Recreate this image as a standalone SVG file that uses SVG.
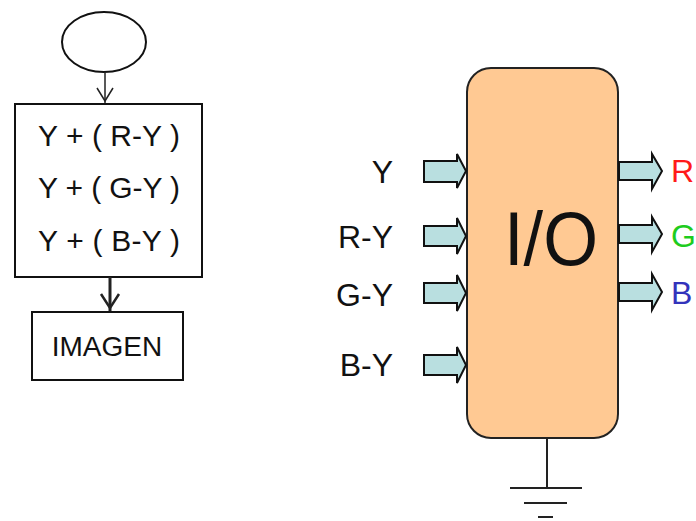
<svg xmlns="http://www.w3.org/2000/svg" width="696" height="521" viewBox="0 0 696 521">
<style>
.t{font-family:"Liberation Sans",Arial,sans-serif;fill:#111}
.box{fill:#fff;stroke:#111;stroke-width:2}
.arr{fill:#b9dfe0;stroke:#111;stroke-width:2;stroke-linejoin:miter}
.ln{stroke:#222;fill:none}
</style>
<rect width="696" height="521" fill="#fff"/>
<g id="start"><ellipse cx="104" cy="42" rx="42" ry="30" class="box"/></g>
<g id="formulas">
<rect x="15" y="104" width="187" height="173" class="box"/>
<text class="t" x="38" y="146" font-size="30" textLength="142">Y + ( R-Y )</text>
<text class="t" x="38" y="198" font-size="30" textLength="142">Y + ( G-Y )</text>
<text class="t" x="38" y="251" font-size="30" textLength="142">Y + ( B-Y )</text>
</g>
<g id="imagen">
<rect x="32" y="312" width="151" height="68" class="box"/>
<text class="t" x="107" y="356" font-size="28" text-anchor="middle">IMAGEN</text>
</g>
<g id="io">
<rect x="467" y="68" width="151" height="370" rx="24" fill="#ffc993" stroke="#222" stroke-width="2"/>
<text class="t" x="551" y="265" font-size="76" text-anchor="middle" textLength="94" lengthAdjust="spacingAndGlyphs">I/O</text>
</g>
<g id="inputs">
<text class="t" x="393" y="183" font-size="32" text-anchor="end">Y</text>
<text class="t" x="393" y="248" font-size="32" text-anchor="end">R-Y</text>
<text class="t" x="393" y="306" font-size="32" text-anchor="end">G-Y</text>
<text class="t" x="393" y="376" font-size="32" text-anchor="end">B-Y</text>
</g>
<g id="outputs">
<text class="t" x="671" y="182" font-size="32" style="fill:#ff1a1a">R</text>
<text class="t" x="671" y="247" font-size="32" style="fill:#1ecc1e">G</text>
<text class="t" x="671" y="304" font-size="32" style="fill:#3333bb">B</text>
</g>
<g id="ground">
<line x1="547" y1="438" x2="547" y2="488" class="ln" stroke-width="2"/>
<line x1="510" y1="488" x2="582" y2="488" class="ln" stroke-width="2"/>
<line x1="524" y1="503" x2="567" y2="503" class="ln" stroke-width="2"/>
<line x1="538" y1="517" x2="553" y2="517" class="ln" stroke-width="2"/>
</g>
<g id="connectors">
<line x1="105" y1="72" x2="105" y2="103" class="ln" stroke-width="1.5"/>
<polyline points="97,88 105,101 113,88" class="ln" stroke-width="1.5"/>
<line x1="110" y1="277" x2="110" y2="311" class="ln" stroke-width="3"/>
<polyline points="101,294 110,308 119,294" class="ln" stroke-width="2.5"/>
<polygon class="arr" points="424,161 457,161 457,154 466,171 457,188 457,182 424,182"/>
<polygon class="arr" points="424,226 457,226 457,218 466,236 457,254 457,246 424,246"/>
<polygon class="arr" points="424,283 457,283 457,275 466,293 457,311 457,303 424,303"/>
<polygon class="arr" points="424,355 457,355 457,347 466,365 457,383 457,375 424,375"/>
<polygon class="arr" points="619,162 652,162 652,154 662,171 652,189 652,180 619,180"/>
<polygon class="arr" points="619,225 652,225 652,217 662,234 652,252 652,243 619,243"/>
<polygon class="arr" points="619,283 652,283 652,274 662,292 652,310 652,301 619,301"/>
</g>
</svg>
